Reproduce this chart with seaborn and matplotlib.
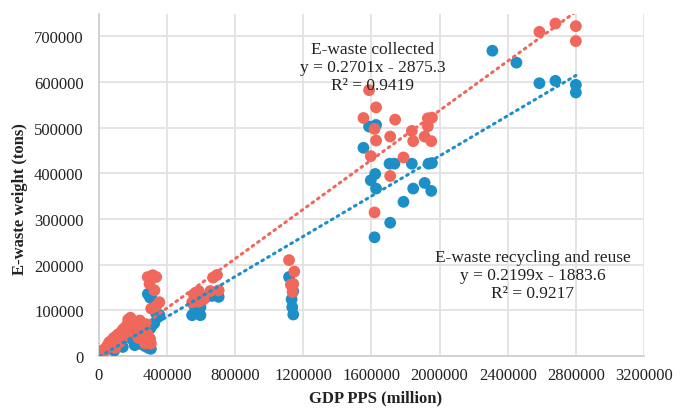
import numpy as np
import pandas as pd
import matplotlib
matplotlib.use("Agg")
import matplotlib.pyplot as plt
import seaborn as sns

# GDP PPS (million) and e-waste collected (tons)
collected_gdp = [
    5000, 12000, 20000, 28000, 35000, 45000, 55000, 62000, 70000, 80000,
    88000, 95000, 105000, 115000, 125000, 135000, 145000, 155000, 165000, 172000,
    180000, 190000, 200000, 210000, 220000, 230000, 240000, 250000, 260000, 270000,
    285000, 300000, 305000, 185000, 160000, 120000, 95000, 230000, 275000,
    287000, 316000, 336000, 297000, 326000, 355000, 336000, 307000,
    693000, 670000, 703000, 654000, 586000, 557000, 615000, 586000, 547000,
    1116000, 1147000, 1141000, 1127000, 1137000,
    1586000, 1627000, 1553000, 1739000, 1931000, 1955000, 1618000, 1931000, 1837000,
    1710000, 1912000, 1627000, 1845000, 1951000, 1596000, 1788000, 1710000, 1618000,
    2586000, 2680000, 2800000, 2800000,
]
collected = [
    3000, 6000, 9000, 14000, 11000, 20000, 26000, 31000, 22000, 36000,
    40000, 30000, 45000, 48000, 38000, 55000, 60000, 50000, 68000, 80000,
    75000, 70000, 62000, 55000, 74000, 40000, 78000, 60000, 35000, 28000,
    48000, 38000, 27000, 84000, 45000, 30000, 18000, 62000, 70000,
    173000, 177000, 173000, 158000, 144000, 118000, 109000, 104000,
    177500, 171800, 143700, 142300, 142300, 135200, 124700, 119000, 117600,
    210000, 185000, 158000, 156000, 140000,
    581800, 544100, 520900, 517300, 520200, 521600, 497000, 502800, 492600,
    480300, 480300, 471600, 470200, 470200, 437500, 434600, 394000, 314300,
    709400, 727500, 721800, 689100,
]

# GDP PPS (million) and e-waste recycled and reused (tons)
recycled_gdp = [
    5000, 15000, 25000, 40000, 55000, 70000, 85000, 100000, 115000, 130000,
    150000, 165000, 180000, 195000, 210000, 225000, 240000, 255000, 270000, 290000,
    305000, 300000, 310000, 325000, 345000, 355000, 140000, 90000, 200000,
    287000, 307000, 336000, 355000, 300000,
    703000, 664000, 625000, 596000, 547000, 596000, 567000, 560000,
    1116000, 1141000, 1131000, 1135000, 1141000,
    1586000, 1627000, 1553000, 1706000, 1735000, 1837000, 1935000, 1955000, 1622000,
    1596000, 1627000, 1845000, 1912000, 1951000, 1788000, 1710000, 1618000,
    2310000, 2451000, 2586000, 2680000, 2800000, 2800000,
]
recycled = [
    2000, 5000, 10000, 14000, 18000, 20000, 26000, 30000, 33000, 28000,
    40000, 48000, 55000, 50000, 24000, 45000, 27000, 55000, 22000, 18000,
    16000, 60000, 66000, 72000, 85000, 90000, 20000, 12000, 35000,
    136000, 132000, 93000, 88000, 128000,
    129600, 131700, 128200, 107100, 89500, 89500, 100000, 110000,
    173000, 142000, 124000, 107000, 91000,
    502100, 505700, 455700, 420900, 420900, 420900, 420900, 422300, 398400,
    384600, 366500, 366500, 378800, 361400, 337500, 291800, 259900,
    668100, 642000, 597000, 602100, 593400, 576700,
]

# Linear trend lines: (slope, intercept, R²)
collected_fit = (0.2701, -2875.3, 0.9419)
recycled_fit = (0.2199, -1883.6, 0.9217)

x_ticks = list(range(0, 3200001, 400000))
y_ticks = list(range(0, 700001, 100000))

RED = "#F0675C"
BLUE = "#1C8FC8"
GRID = "#E2E2E2"
TEXT = "#222222"

sns.set_theme(style="whitegrid")
plt.rcParams["font.family"] = ["Liberation Serif", "DejaVu Serif"]

fig = plt.figure(figsize=(6.87, 4.10), dpi=100)
ax = fig.add_axes([0.144, 0.129, 0.7934, 0.834])

df_rec = pd.DataFrame({"gdp": recycled_gdp, "weight": recycled})
df_col = pd.DataFrame({"gdp": collected_gdp, "weight": collected})

sns.scatterplot(data=df_rec, x="gdp", y="weight", color=BLUE, s=72,
                linewidth=0, edgecolor="none", ax=ax, zorder=3)
sns.scatterplot(data=df_col, x="gdp", y="weight", color=RED, s=72,
                linewidth=0, edgecolor="none", ax=ax, zorder=4)


def trend(gdp, fit):
    x = np.array([min(gdp), max(gdp)], dtype=float)
    return pd.DataFrame({"gdp": x, "weight": fit[0] * x + fit[1]})


for gdp, fit, col in [(collected_gdp, collected_fit, RED),
                      (recycled_gdp, recycled_fit, BLUE)]:
    sns.lineplot(data=trend(gdp, fit), x="gdp", y="weight", ax=ax,
                 color=col, linewidth=2.2, zorder=5)
    l = ax.lines[-1]
    l.set_linestyle((0, (0.6, 1.6)))
    l.set_dash_capstyle("round")

ax.set_xlim(0, 3200000)
ax.set_ylim(0, 748000)
ax.set_xticks(x_ticks)
ax.set_yticks(y_ticks)
ax.set_xticklabels([str(v) for v in x_ticks])
ax.set_yticklabels([str(v) for v in y_ticks])
ax.tick_params(axis="both", length=0, labelsize=12, colors=TEXT)
ax.tick_params(axis="y", pad=11)
ax.tick_params(axis="x", pad=8)
ax.grid(True, color=GRID, linewidth=1.3)
for side in ["top", "right"]:
    ax.spines[side].set_visible(False)
for side in ["left", "bottom"]:
    ax.spines[side].set_color("#CFCFCF")
    ax.spines[side].set_linewidth(1.3)

ax.set_xlabel("GDP PPS (million)", fontsize=12, fontweight="bold", color=TEXT, va="center")
ax.set_ylabel("E-waste weight (tons)", fontsize=12, fontweight="bold", color=TEXT, va="center")
ax.xaxis.set_label_coords(0.508, -0.12)
ax.yaxis.set_label_coords(-0.145, 0.462)

ax.text(1606000, 633000,
        "E-waste collected\ny = %.4fx - %.1f\nR² = %.4f" % (collected_fit[0], -collected_fit[1], collected_fit[2]),
        ha="center", va="center", fontsize=12.5, color=TEXT, linespacing=1.15, zorder=6)
ax.text(2545000, 177000,
        "E-waste recycling and reuse\ny = %.4fx - %.1f\nR² = %.4f" % (recycled_fit[0], -recycled_fit[1], recycled_fit[2]),
        ha="center", va="center", fontsize=12.5, color=TEXT, linespacing=1.15, zorder=6)

fig.savefig("out.png", dpi=100)
